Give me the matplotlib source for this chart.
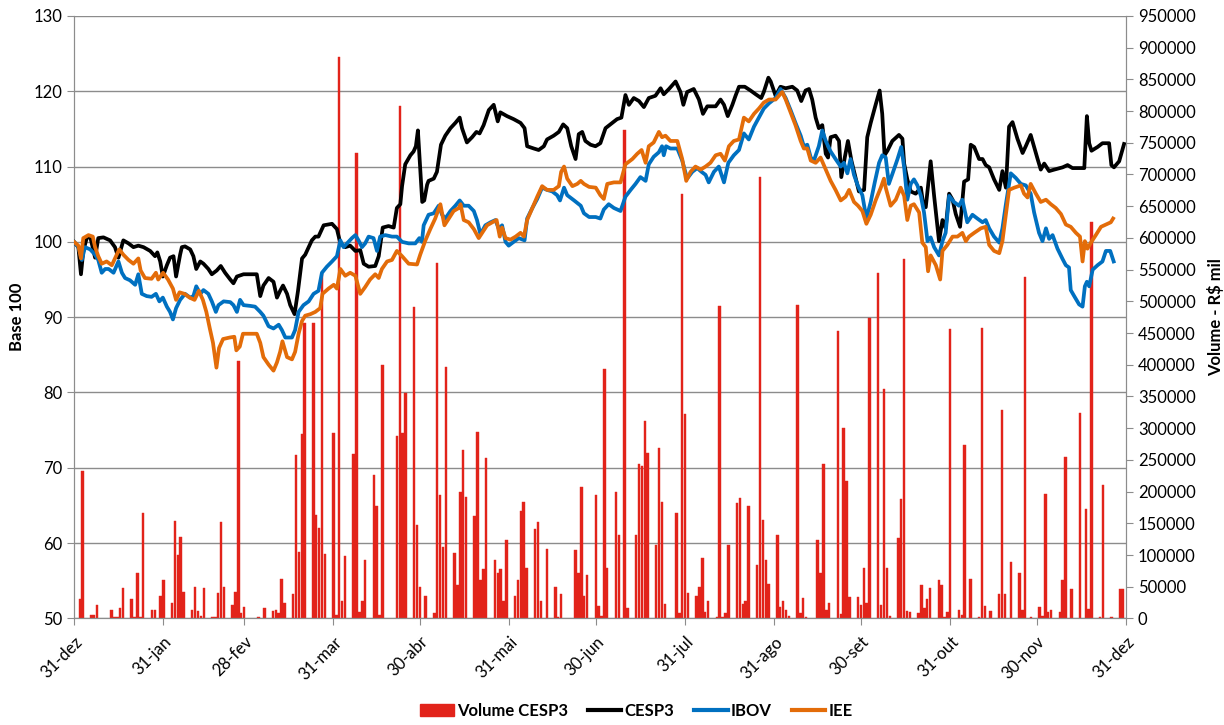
import matplotlib
matplotlib.use("Agg")
import matplotlib.pyplot as plt
import matplotlib.dates as mdates
from matplotlib.patches import Patch
from matplotlib.lines import Line2D
from datetime import datetime

plt.rcParams['font.family'] = ['Lato', 'DejaVu Sans']

# ---------------- data ----------------
# day offsets counted from 31-dez-2013
cesp_days = [0, 1.5, 2.4, 3.2, 4.4, 5.6, 7.3, 8.4, 10.2, 12.5, 14.2, 15.4, 17.1, 18.9, 20.6, 22.3, 24.1, 26.4,
             28.1, 28.9, 29.9, 30.8, 32.2, 33.3, 34.5, 35.4, 36.8, 37.4, 38.5, 40.3, 41.4, 42.4, 43.8, 44.9,
             46.6, 47.8, 49.5, 50.9, 52.4, 54.2, 55.3, 56.5, 58.8, 61.1, 63.4, 64.6, 65.7, 67.5, 69.2, 70.4,
             71.5, 72.5, 73.9, 75, 76.5, 77.7, 79.1, 80.2, 81.4, 82.5, 83.7, 84.8, 86.6, 89.5, 91.2, 92.4,
             94.1, 95.8, 97.6, 99.3, 100.5, 102.2, 104.5, 105.7, 107.1, 109.1, 110.9, 112, 113.2, 113.8,
             114.9, 116.7, 117.8, 118.6, 119.3, 120.1, 120.8, 121.5, 122.5, 123, 124.8, 125.9, 127.3, 128.8,
             130.6, 132.3, 133.8, 134.6, 136.3, 138.1, 139.6, 140.7, 142.1, 143.9, 145.6, 147, 147.9, 150.2,
             152.5, 154.9, 156.3, 157.2, 159.5, 161.2, 163, 164.1, 166.4, 168.2, 169.7, 171.1, 172.5, 174,
             175.1, 176.3, 177.4, 179.2, 180.9, 182.6, 184.4, 186.7, 188.4, 189.9, 191.3, 192.5, 194.2, 196,
             197.7, 199.4, 201.7, 203.5, 204.6, 206.4, 208.7, 210.4, 211.4, 212.7, 215, 216.8, 218.2, 219.7,
             222.6, 224.3, 225.5, 226.8, 228.4, 229.5, 230.7, 232.7, 234.7, 236.5, 238.4, 239.3, 240.9,
             241.7, 243.4, 245.1, 246.9, 249.2, 250.9, 252.3, 253.8, 255, 256.1, 257.3, 258.4, 259.6, 260.8,
             261.6, 262.5, 264.2, 265.4, 266.2, 267.4, 268.5, 269.7, 271.2, 272.3, 274.1, 275.2, 276.4,
             278.1, 279.5, 280.4, 281.2, 282.2, 283.9, 286.2, 287.4, 288, 289.1, 290.3, 292, 293.8, 294.7,
             295.5, 297.2, 298.4, 300.1, 301.3, 302.4, 303.6, 304.8, 305.9, 307.4, 308.8, 310.2, 311.1,
             312.3, 314, 315.2, 316.3, 317.5, 319.2, 321, 322.1, 323.3, 324.4, 325.6, 327.3, 329.1, 330.2,
             331.9, 333.1, 334.3, 335.4, 336.6, 338.3, 340.1, 343, 344.7, 346.4, 350.5, 351.4, 352.2, 353,
             355.1, 356.8, 359.1, 359.9, 360.8, 362.6, 364.3]
cesp_vals = [100, 99.3, 95.7, 98.8, 100.5, 100.7, 97.9, 100.5, 100.6, 100.2, 99.3, 97.9, 100.2, 99.8, 99.3, 99.5,
             99.3, 98.8, 98.1, 98.6, 97.4, 95.4, 96.9, 97.9, 98.1, 95.4, 98.3, 99.3, 99.4, 99.0, 98.1, 96.4,
             97.4, 97.1, 96.4, 95.7, 96.2, 96.8, 95.9, 95.0, 94.5, 95.4, 95.7, 95.7, 95.7, 92.8, 94.2, 95.2,
             94.7, 92.6, 93.5, 94.2, 93.1, 91.6, 90.4, 93.5, 97.8, 98.3, 99.3, 100.2, 100.7, 100.7, 102.2,
             102.4, 101.7, 99.8, 99.3, 99.5, 98.8, 98.9, 97.1, 96.7, 96.8, 98.1, 101.9, 102.1, 101.9, 104.5,
             105.0, 107.4, 110.3, 111.5, 112.0, 112.7, 114.8, 109.8, 105.3, 105.5, 107.6, 108.1, 108.4, 109.3,
             112.9, 114.1, 115.1, 115.8, 116.5, 115.1, 113.2, 113.9, 114.6, 114.4, 115.5, 117.5, 118.2, 116.0,
             117.2, 116.7, 116.3, 115.8, 115.1, 112.7, 112.4, 112.2, 112.7, 113.6, 114.1, 114.6, 115.6, 115.1,
             112.7, 111.0, 114.3, 114.6, 113.4, 112.9, 112.7, 113.1, 115.1, 115.8, 116.3, 116.5, 119.5, 118.2,
             119.1, 118.7, 117.9, 119.1, 119.4, 120.4, 119.6, 120.3, 121.3, 119.9, 118.2, 119.9, 120.3, 118.9,
             117.0, 118.0, 118.0, 118.9, 118.2, 116.7, 118.2, 119.4, 120.6, 120.6, 120.1, 119.6, 119.1, 119.9,
             121.8, 121.3, 119.4, 120.6, 120.4, 120.6, 120.1, 118.7, 120.1, 120.3, 118.9, 116.5, 115.1, 115.5,
             111.7, 111.2, 113.9, 114.1, 113.4, 108.6, 111.2, 113.4, 110.8, 108.4, 106.7, 106.9, 113.9, 115.8,
             118.2, 120.1, 117.0, 111.5, 112.1, 113.4, 114.2, 113.7, 110.4, 108.3, 106.7, 106.4, 107.2, 104.8,
             104.6, 110.7, 106.1, 100.1, 102.9, 101.8, 106.4, 105.6, 103.7, 102.0, 108.0, 108.3, 112.9, 112.6,
             111.0, 111.0, 110.2, 109.9, 108.3, 106.9, 109.4, 107.2, 115.3, 115.9, 113.7, 111.8, 112.7, 114.2,
             112.6, 111.0, 109.6, 110.4, 109.4, 109.6, 109.9, 110.2, 109.8, 109.8, 116.7, 113.1, 112.1, 112.6,
             113.1, 113.1, 110.2, 109.9, 110.7, 113.0]

ibov_days = [0, 1.5, 2.7, 3.8, 5.6, 7.3, 8.4, 9.6, 10.8, 12, 13.7, 15.4, 16.6, 17.7, 19.4, 21.2, 22.3, 23.5, 25.2,
             26.9, 28.4, 29.6, 30.8, 32.2, 33.3, 34.3, 35.4, 36.8, 38.5, 40.3, 41.4, 42.4, 43.8, 44.9, 46.6,
             47.8, 49.2, 50.1, 51.9, 54.2, 55.3, 56.5, 57.6, 58.8, 61.1, 62.8, 64.6, 65.7, 67.5, 69.2, 71,
             72.1, 73.3, 75.6, 76.7, 77.9, 79.6, 81.4, 83.1, 84.8, 86, 87.7, 89.5, 91.2, 92.4, 93.5, 94.7,
             96.4, 97.6, 98.7, 99.9, 101, 102.2, 103.9, 105.1, 106.2, 108, 110.3, 112, 113.8, 116.1, 118.4,
             119.8, 120.7, 121.3, 123, 124.8, 126.5, 127.7, 128.8, 130.6, 132.3, 133.8, 135.2, 136.9, 138.7,
             139.8, 141, 142.7, 144.5, 146.2, 147.4, 148.5, 149.7, 150.8, 152.5, 154.3, 156.3, 157.2, 159,
             160.7, 162.4, 164.1, 165.9, 167.6, 168.6, 170, 171.1, 173.5, 175.8, 176.9, 178.7, 181, 182.6,
             183.8, 185.5, 187.3, 189.6, 191.3, 193.1, 194.8, 196.5, 198.3, 199.4, 201.1, 202.9, 204, 204.6,
             205.4, 206.9, 209.3, 211, 212.7, 214.5, 216.2, 217.7, 219.1, 220.2, 222, 223.7, 225.5, 227,
             228.9, 230.7, 232.4, 234.1, 235.9, 237.6, 239.3, 241.1, 243.4, 245.1, 246.9, 248.6, 250.3, 252.1,
             253.2, 254.4, 255.6, 256.7, 258.4, 259.6, 260.8, 262.5, 264.2, 266, 267.1, 268.3, 269.4, 270.6,
             272, 273.5, 274.9, 276.4, 277.8, 279.3, 280.4, 281.6, 282.7, 283.9, 285.7, 287, 288, 289.1,
             290.3, 291.4, 292.6, 293.8, 294.9, 296.1, 297.2, 298.4, 300.1, 301.3, 302.4, 303.6, 305.3, 307,
             308.2, 309.9, 311.7, 313.4, 315.2, 316.3, 317.5, 319.2, 321, 322.1, 323.3, 325, 326.7, 328.5,
             330.2, 331.9, 333.1, 334.8, 336, 337.2, 338.3, 339.5, 341.2, 343, 344.1, 345.2, 345.8, 347,
             348.7, 349.9, 350.7, 351.4, 352.2, 353.4, 355.1, 356.8, 358, 359.5, 360.7]
ibov_vals = [100, 99.3, 97.6, 99.3, 99.0, 98.3, 97.6, 95.9, 96.4, 96.4, 95.9, 97.4, 95.9, 95.2, 94.9, 94.3, 95.7,
             93.1, 92.8, 92.7, 93.1, 92.1, 92.6, 91.4, 90.7, 89.7, 91.2, 92.3, 93.1, 92.6, 92.8, 94.1, 93.1,
             93.6, 93.1, 92.1, 90.7, 91.6, 92.1, 92.0, 91.6, 90.7, 92.3, 91.6, 91.5, 91.4, 90.7, 90.2, 88.8,
             88.5, 89.0, 88.3, 87.3, 87.3, 88.3, 90.7, 91.6, 92.1, 93.1, 93.5, 95.9, 96.7, 97.4, 98.1, 100.2,
             99.3, 99.8, 100.5, 100.9, 100.2, 99.3, 99.8, 100.7, 100.5, 98.8, 100.7, 100.9, 100.7, 100.7,
             100.0, 99.8, 99.8, 100.5, 100.0, 102.2, 103.6, 103.8, 104.8, 103.6, 103.1, 104.1, 104.8, 105.5,
             104.8, 104.8, 104.1, 102.9, 101.0, 102.2, 102.6, 102.9, 101.7, 102.2, 100.0, 99.5, 100.0, 100.5,
             100.2, 103.1, 104.5, 105.7, 107.2, 106.9, 106.7, 106.2, 105.5, 107.2, 106.2, 105.5, 104.8, 103.8,
             103.3, 103.3, 103.1, 104.3, 105.0, 104.5, 104.1, 106.0, 106.9, 107.7, 108.6, 108.1, 110.3, 111.3,
             111.9, 112.7, 111.5, 112.7, 112.4, 112.4, 110.8, 108.4, 109.3, 109.8, 109.3, 108.9, 107.9, 109.3,
             110.0, 107.9, 110.5, 111.5, 112.2, 114.4, 113.6, 115.3, 116.5, 117.7, 118.4, 119.1, 120.3, 119.1,
             117.5, 115.8, 114.1, 112.7, 112.9, 111.2, 110.8, 112.7, 114.8, 113.4, 112.0, 111.0, 110.0, 110.5,
             109.1, 111.0, 108.9, 107.4, 106.2, 103.1, 105.3, 107.9, 110.5, 111.5, 111.2, 107.7, 109.0, 111.0,
             112.6, 109.9, 105.6, 107.7, 108.3, 107.5, 106.1, 103.9, 100.1, 100.6, 99.3, 98.2, 100.1, 101.2,
             106.1, 105.3, 104.8, 105.6, 102.6, 103.6, 103.1, 102.6, 102.9, 101.8, 100.7, 99.9, 101.8, 105.0,
             109.1, 108.5, 107.7, 107.5, 106.4, 103.9, 101.2, 100.1, 101.8, 100.4, 100.9, 99.1, 97.7, 96.9,
             96.6, 93.6, 92.8, 91.7, 91.4, 94.1, 94.7, 94.1, 96.3, 96.9, 97.4, 98.8, 98.8, 97.4]

iee_days = [0, 1.5, 2.4, 3.2, 5, 6.5, 7.3, 8.4, 9.6, 11.3, 13.1, 14.8, 15.7, 17.1, 18.9, 20.6, 22.3, 23.1, 24.6,
            26.9, 28.4, 29.2, 30.9, 32.6, 34.3, 35.4, 36.6, 38.3, 40.1, 41.8, 43.3, 44.7, 45.9, 47.1, 48.2,
            49.4, 50.3, 51.7, 54, 55.6, 56.3, 57.5, 58.6, 61.1, 63.4, 64.6, 65.7, 67.5, 69.2, 70.4, 71.5,
            72.3, 73, 73.9, 75.6, 76.7, 77.9, 79.1, 80.2, 82, 83.7, 85.4, 86.2, 88.3, 90.1, 91.2, 92.4, 94.1,
            95.8, 97.6, 99.3, 101, 102.7, 104.5, 105.7, 106.8, 108.6, 110.3, 112, 113.8, 116.1, 119, 120.1,
            121.9, 123.6, 125.3, 127.1, 128.5, 130, 131.7, 133.5, 134.1, 135.2, 136.9, 138.7, 140.4, 141.6,
            143.3, 145.1, 146.6, 147.7, 148.5, 149.7, 151.4, 153.2, 154.9, 156.1, 157.2, 159, 160.7, 162.4,
            164.1, 166.4, 168.2, 169, 170, 171.1, 172.9, 174.6, 175.8, 176.9, 178.7, 181, 182.6, 183.8, 185,
            187.3, 189.6, 191.3, 193.7, 195.4, 196.9, 198.3, 199.4, 201.1, 202.9, 204, 205.2, 206.9, 209.3,
            211, 212.4, 213.9, 215.6, 217.4, 219.1, 220.8, 222.6, 224.3, 225.8, 227.2, 228.9, 230.7, 232.4,
            234.1, 235.9, 237.6, 239.3, 241.1, 243.4, 245.7, 246.9, 248.6, 250.3, 252.1, 253.2, 254.4, 255.6,
            257.3, 259, 260.8, 262.5, 264.2, 266, 267.7, 268.9, 270.6, 272, 273.5, 274.9, 276.4, 278.1,
            279.9, 281, 281.6, 283.3, 285.1, 286.8, 288, 289.1, 290.3, 291.4, 293.2, 294.3, 295.5, 296.3,
            297.2, 299, 300.5, 301.3, 303, 304.8, 306.5, 308.2, 309.4, 310.5, 312.3, 314.6, 316.3, 317.5,
            319.2, 321, 322.1, 323.3, 324.4, 326.2, 328.5, 329.6, 330.8, 331.9, 333.7, 335.4, 337.2, 338.9,
            340.6, 342.4, 344.1, 345.8, 347.6, 349, 349.9, 350.7, 351.6, 352.8, 354.5, 356.3, 358, 359.7, 360.5]
iee_vals = [100, 99.5, 97.8, 100.5, 100.9, 100.7, 99.3, 98.1, 97.1, 97.4, 96.9, 98.3, 99.0, 98.3, 97.6, 97.1,
            97.8, 96.2, 95.2, 95.1, 95.9, 95.0, 95.9, 95.0, 93.8, 92.3, 93.3, 93.1, 92.6, 92.3, 93.5, 92.3,
            90.7, 88.5, 86.6, 83.3, 85.9, 87.1, 87.3, 87.4, 85.6, 86.1, 87.8, 87.8, 87.8, 86.6, 84.7, 83.7,
            82.9, 84.0, 85.4, 86.8, 85.9, 84.7, 84.4, 85.4, 87.8, 89.5, 90.2, 90.4, 90.7, 91.2, 93.1, 93.8,
            94.3, 93.8, 96.4, 95.5, 95.9, 95.5, 93.1, 94.0, 95.0, 95.7, 95.2, 96.4, 97.4, 97.6, 98.8, 98.1,
            97.1, 97.0, 98.3, 100.2, 101.7, 103.1, 105.0, 102.2, 103.1, 104.1, 104.5, 105.0, 102.9, 102.6,
            101.7, 100.5, 101.2, 102.2, 102.6, 102.9, 100.7, 101.9, 100.5, 100.3, 100.7, 101.2, 100.7, 102.9,
            104.5, 106.0, 107.4, 106.9, 106.9, 107.4, 109.3, 110.0, 108.4, 107.4, 107.7, 108.1, 107.7, 107.3,
            107.2, 106.2, 105.7, 107.7, 107.9, 107.9, 110.3, 111.0, 111.7, 112.2, 110.5, 112.7, 113.2, 114.6,
            113.9, 114.1, 113.4, 113.4, 111.0, 108.1, 109.3, 110.0, 109.6, 110.0, 110.5, 111.5, 111.7, 110.8,
            112.7, 113.4, 113.6, 116.5, 116.0, 117.0, 117.7, 118.5, 118.9, 118.9, 119.9, 118.9, 117.2, 115.5,
            113.4, 112.4, 112.4, 110.8, 110.5, 111.2, 109.6, 108.1, 106.9, 105.5, 106.0, 106.9, 105.3, 104.8,
            104.1, 102.4, 103.6, 105.5, 107.2, 108.4, 107.2, 104.8, 105.6, 107.2, 106.1, 102.9, 104.8, 105.0,
            103.9, 99.9, 99.3, 96.1, 98.2, 96.9, 95.0, 98.8, 99.6, 100.7, 100.7, 101.2, 100.1, 100.7, 101.2,
            101.8, 102.0, 99.6, 98.8, 98.5, 100.1, 103.7, 106.9, 107.2, 107.5, 106.4, 105.9, 107.7, 106.4,
            105.3, 105.6, 105.0, 104.5, 103.7, 102.3, 102.0, 101.2, 100.7, 97.4, 100.1, 99.1, 99.9, 100.9,
            102.0, 102.3, 102.6, 103.1]

vol_dates = ["01-02", "01-03", "01-06", "01-07", "01-08", "01-13", "01-14", "01-15", "01-16", "01-17", "01-20",
             "01-21", "01-22", "01-23", "01-24", "01-27", "01-28", "01-30", "01-31", "02-03", "02-04", "02-05",
             "02-06", "02-07", "02-10", "02-11", "02-12", "02-13", "02-14", "02-17", "02-18", "02-19", "02-20",
             "02-21", "02-24", "02-25", "02-26", "02-27", "02-28", "03-05", "03-07", "03-10", "03-11", "03-12",
             "03-13", "03-14", "03-17", "03-18", "03-19", "03-20", "03-21", "03-24", "03-25", "03-26", "03-27",
             "03-28", "03-31", "04-01", "04-02", "04-03", "04-04", "04-07", "04-08", "04-09", "04-10", "04-11",
             "04-14", "04-15", "04-16", "04-17", "04-22", "04-23", "04-24", "04-25", "04-28", "04-29", "04-30",
             "05-02", "05-05", "05-06", "05-07", "05-08", "05-09", "05-12", "05-13", "05-14", "05-15", "05-16",
             "05-19", "05-20", "05-21", "05-22", "05-23", "05-26", "05-27", "05-28", "05-29", "05-30", "06-02",
             "06-03", "06-04", "06-05", "06-06", "06-09", "06-10", "06-11", "06-13", "06-16", "06-17", "06-18",
             "06-23", "06-24", "06-25", "06-26", "06-27", "06-30", "07-01", "07-02", "07-03", "07-04", "07-07",
             "07-08", "07-10", "07-11", "07-14", "07-15", "07-16", "07-17", "07-18", "07-21", "07-22", "07-23",
             "07-24", "07-28", "07-29", "07-30", "07-31", "08-01", "08-04", "08-05", "08-06", "08-07", "08-08",
             "08-11", "08-12", "08-13", "08-14", "08-15", "08-18", "08-19", "08-20", "08-21", "08-22", "08-25",
             "08-26", "08-27", "08-28", "08-29", "09-01", "09-02", "09-03", "09-04", "09-05", "09-08", "09-09",
             "09-10", "09-11", "09-15", "09-16", "09-17", "09-18", "09-19", "09-22", "09-23", "09-24", "09-25",
             "09-26", "09-29", "09-30", "10-01", "10-02", "10-03", "10-06", "10-07", "10-08", "10-09", "10-10",
             "10-13", "10-14", "10-15", "10-16", "10-17", "10-20", "10-21", "10-22", "10-23", "10-24", "10-27",
             "10-28", "10-29", "10-30", "10-31", "11-03", "11-04", "11-05", "11-07", "11-10", "11-11", "11-12",
             "11-14", "11-17", "11-18", "11-19", "11-21", "11-24", "11-25", "11-26", "11-28", "12-01", "12-02",
             "12-03", "12-04", "12-05", "12-08", "12-09", "12-10", "12-12", "12-15", "12-17", "12-18", "12-19",
             "12-22", "12-23", "12-26", "12-29", "12-30"]
vol_values = [30, 232, 5, 5, 21, 13, 3, 3, 17, 48, 30, 3, 71, 3, 166, 13, 13, 35, 61, 24, 153, 100, 129, 41, 14,
              49, 11, 4, 48, 2, 2, 40, 152, 50, 21, 41, 406, 8, 18, 2, 16, 12, 14, 9, 62, 24, 38, 258, 104, 291,
              466, 466, 163, 142, 545, 101, 292, 5, 885, 28, 99, 260, 734, 10, 28, 92, 226, 177, 5, 400, 288, 808,
              292, 355, 491, 147, 50, 35, 9, 561, 195, 113, 396, 103, 52, 200, 266, 191, 161, 294, 61, 78, 253,
              92, 71, 78, 27, 124, 35, 60, 170, 183, 80, 141, 152, 27, 109, 50, 3, 38, 108, 71, 208, 35, 68, 194,
              20, 4, 393, 80, 200, 132, 770, 16, 132, 243, 241, 311, 261, 116, 269, 183, 22, 167, 8, 669, 322, 40,
              35, 49, 95, 10, 27, 2, 492, 3, 9, 116, 182, 190, 23, 28, 177, 85, 696, 155, 92, 55, 132, 18, 27, 14,
              4, 495, 8, 32, 2, 124, 71, 243, 14, 24, 453, 7, 300, 216, 34, 34, 21, 80, 25, 474, 544, 21, 361, 80,
              4, 127, 188, 566, 12, 10, 9, 53, 16, 30, 48, 60, 53, 2, 10, 457, 14, 5, 274, 62, 3, 458, 20, 12, 38,
              328, 38, 89, 71, 14, 538, 3, 18, 4, 196, 10, 14, 10, 60, 255, 46, 324, 173, 15, 625, 3, 210, 2, 46, 46]
vol_values = [v * 1000 for v in vol_values]

tick_dates = ["2013-12-31", "2014-01-31", "2014-02-28", "2014-03-31", "2014-04-30", "2014-05-31", "2014-06-30",
              "2014-07-31", "2014-08-31", "2014-09-30", "2014-10-31", "2014-11-30", "2014-12-31"]
tick_labels = ["31-dez", "31-jan", "28-fev", "31-mar", "30-abr", "31-mai", "30-jun", "31-jul", "31-ago",
               "30-set", "31-out", "30-nov", "31-dez"]

# ---------------- drawing ----------------
base = mdates.date2num(datetime(2013, 12, 31))
RED = '#E2231A'
BLUE = '#0070C0'
ORANGE = '#E36C09'
GRID = '#8C8C8C'

fig = plt.figure(figsize=(12.24, 7.25), dpi=100)
axv = fig.add_axes([0.0605, 0.147, 0.8595, 0.831])
axl = axv.twinx()

axv.yaxis.tick_right()
axv.yaxis.set_label_position('right')
axl.yaxis.tick_left()
axl.yaxis.set_label_position('left')

vmax = 950000
for v in range(50, 131, 10):
    axv.axhline((v - 50) / 80 * vmax, color=GRID, lw=1.0, zorder=1)

vx = [mdates.datestr2num("2014-" + d) for d in vol_dates]
axv.bar(vx, vol_values, width=0.85, color=RED, edgecolor=RED, linewidth=0.3, zorder=2)
axv.set_ylim(0, vmax)
axv.set_yticks(range(0, vmax + 1, 50000))
axv.set_yticklabels([str(v) for v in range(0, vmax + 1, 50000)])
axv.set_ylabel("Volume - R$ mil", fontsize=12, fontweight='bold', labelpad=8)

axl.plot([base + d for d in cesp_days], cesp_vals, color='black', lw=2.7, solid_joinstyle='round', zorder=3)
axl.plot([base + d for d in ibov_days], ibov_vals, color=BLUE, lw=2.7, solid_joinstyle='round', zorder=4)
axl.plot([base + d for d in iee_days], iee_vals, color=ORANGE, lw=2.7, solid_joinstyle='round', zorder=5)
axl.set_ylim(50, 130)
axl.set_yticks(range(50, 131, 10))
axl.set_ylabel("Base 100", fontsize=12, fontweight='bold', labelpad=6)

xt = [mdates.datestr2num(d) for d in tick_dates]
axv.set_xlim(xt[0], xt[-1])
axv.set_xticks(xt)
axv.set_xticklabels(tick_labels, rotation=45, ha='right', va='top', rotation_mode='anchor', fontsize=12)

for ax in (axv, axl):
    ax.spines['top'].set_visible(False)
    for s in ('left', 'right', 'bottom'):
        ax.spines[s].set_color(GRID)
    ax.tick_params(axis='both', colors=GRID, labelcolor='black', labelsize=12, length=5, direction='out')

axv.tick_params(axis='x', pad=6)

handles = [Patch(facecolor=RED, edgecolor=RED),
           Line2D([], [], color='black', lw=3),
           Line2D([], [], color=BLUE, lw=3),
           Line2D([], [], color=ORANGE, lw=3)]
labels = ["Volume CESP3", "CESP3", "IBOV", "IEE"]
fig.legend(handles, labels, loc='lower center', bbox_to_anchor=(0.52, -0.012), ncol=4, frameon=False,
           prop={'size': 12, 'weight': 'bold'}, handlelength=2.0, handletextpad=0.2, columnspacing=1.2)

fig.savefig("out.png", dpi=100)
